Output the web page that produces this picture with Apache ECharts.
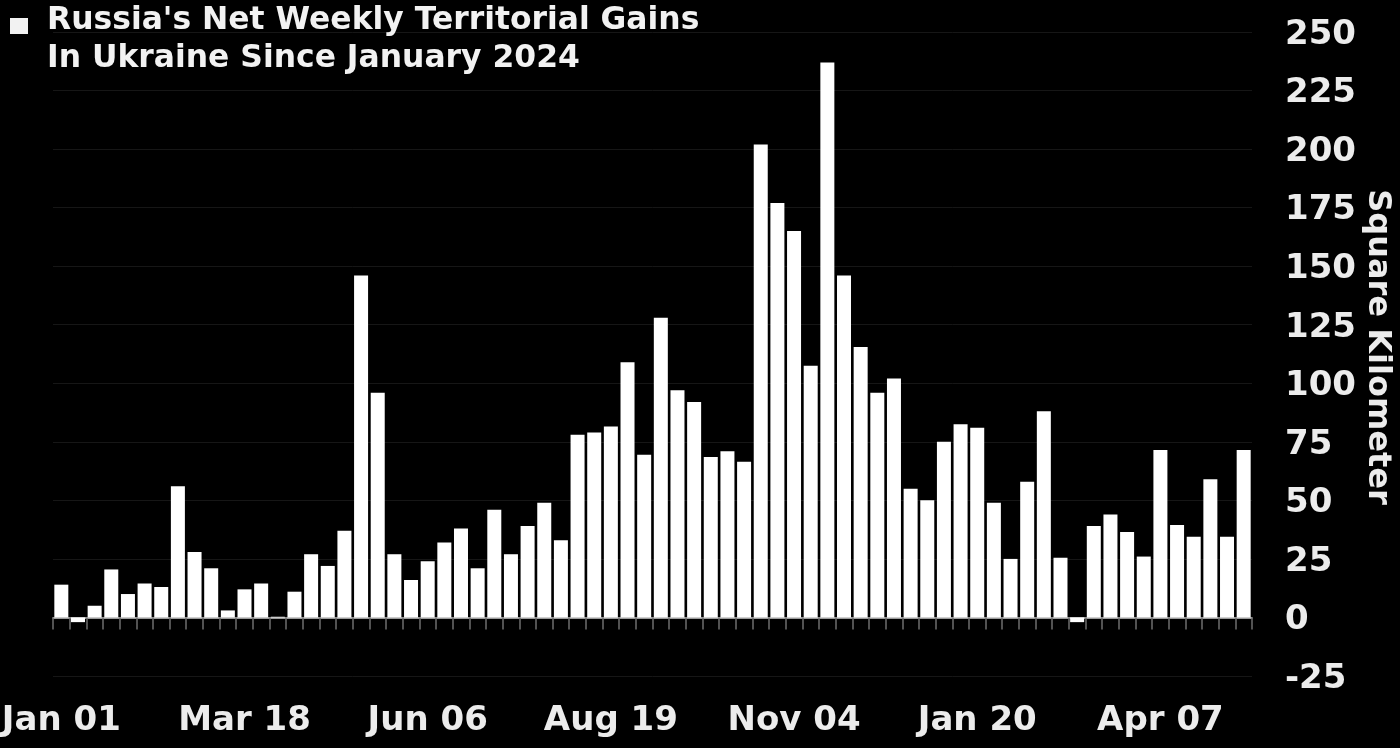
<!DOCTYPE html>
<html>
<head>
<meta charset="utf-8">
<style>
  html, body { margin: 0; padding: 0; background: #000; }
  #main { width: 1400px; height: 748px; }
</style>
<script src="https://cdn.jsdelivr.net/npm/echarts@6/dist/echarts.min.js"></script>
</head>
<body>
<div id="main"></div>
<script>
// one entry per week, only every 11th one gets a label
const weeks = [
  'Jan 01','','','','','','','','','','',
  'Mar 18','','','','','','','','','','',
  'Jun 06','','','','','','','','','','',
  'Aug 19','','','','','','','','','','',
  'Nov 04','','','','','','','','','','',
  'Jan 20','','','','','','','','','','',
  'Apr 07','','','','',''
];
const gains = [
  14, -2, 5, 20.5, 10, 14.5, 13, 56, 28, 21, 3,
  12, 14.5, 0.3, 11, 27, 22, 37, 146, 96, 27, 16,
  24, 32, 38, 21, 46, 27, 39, 49, 33, 78, 79,
  81.5, 109, 69.5, 128, 97, 92, 68.5, 71, 66.5, 202, 177,
  165, 107.5, 237, 146, 115.5, 96, 102, 55, 50, 75, 82.5,
  81, 49, 25, 58, 88, 25.5, -2, 39, 44, 36.5, 26,
  71.5, 39.5, 34.5, 59, 34.5, 71.5
];
const titleLines = "Russia's Net Weekly Territorial Gains\nIn Ukraine Since January 2024";
const yName = 'Square Kilometer';

const font = 'DejaVu Sans';
const chart = echarts.init(document.getElementById('main'));

chart.setOption({
  animation: false,
  backgroundColor: '#000',
  title: {
    text: titleLines,
    left: 47,
    top: 2,
    padding: 0,
    textStyle: { color: '#f2f2f2', fontFamily: font, fontWeight: 'bold', fontSize: 31.4, lineHeight: 38 }
  },
  graphic: [
    { type: 'rect', shape: { x: 10, y: 18, width: 18, height: 16 }, style: { fill: '#f2f2f2' } }
  ],
  grid: { left: 53, right: 148, top: 32, bottom: 72, outerBoundsMode: 'none' },
  xAxis: {
    type: 'category',
    data: weeks,
    axisLine: { onZero: true, lineStyle: { color: '#cfcfcf', width: 1.5 } },
    axisTick: { show: true, alignWithLabel: false, interval: 0, length: 12, lineStyle: { color: '#6e6e6e', width: 1.5 } },
    axisLabel: {
      interval: 0,
      hideOverlap: false,
      margin: 28,
      color: '#ececec',
      fontFamily: font,
      fontWeight: 'bold',
      fontSize: 34
    }
  },
  yAxis: {
    type: 'value',
    position: 'right',
    min: -25,
    max: 250,
    interval: 25,
    name: yName,
    nameLocation: 'middle',
    nameRotate: -90,
    nameGap: 109,
    nameMoveOverlap: false,
    nameTextStyle: { color: '#ececec', fontFamily: font, fontWeight: 'bold', fontSize: 32, padding: [0, 14, 0, 0] },
    axisLine: { show: false },
    axisTick: { show: false },
    axisLabel: {
      align: 'left',
      verticalAlign: 'top',
      lineHeight: 6,
      margin: 33,
      color: '#ececec',
      fontFamily: font,
      fontWeight: 'bold',
      fontSize: 34
    },
    splitLine: { show: true, lineStyle: { color: '#161616', width: 1 } }
  },
  series: [
    {
      name: titleLines,
      type: 'bar',
      data: gains,
      barWidth: 14,
      itemStyle: { color: '#ffffff' }
    }
  ]
});
</script>
</body>
</html>
